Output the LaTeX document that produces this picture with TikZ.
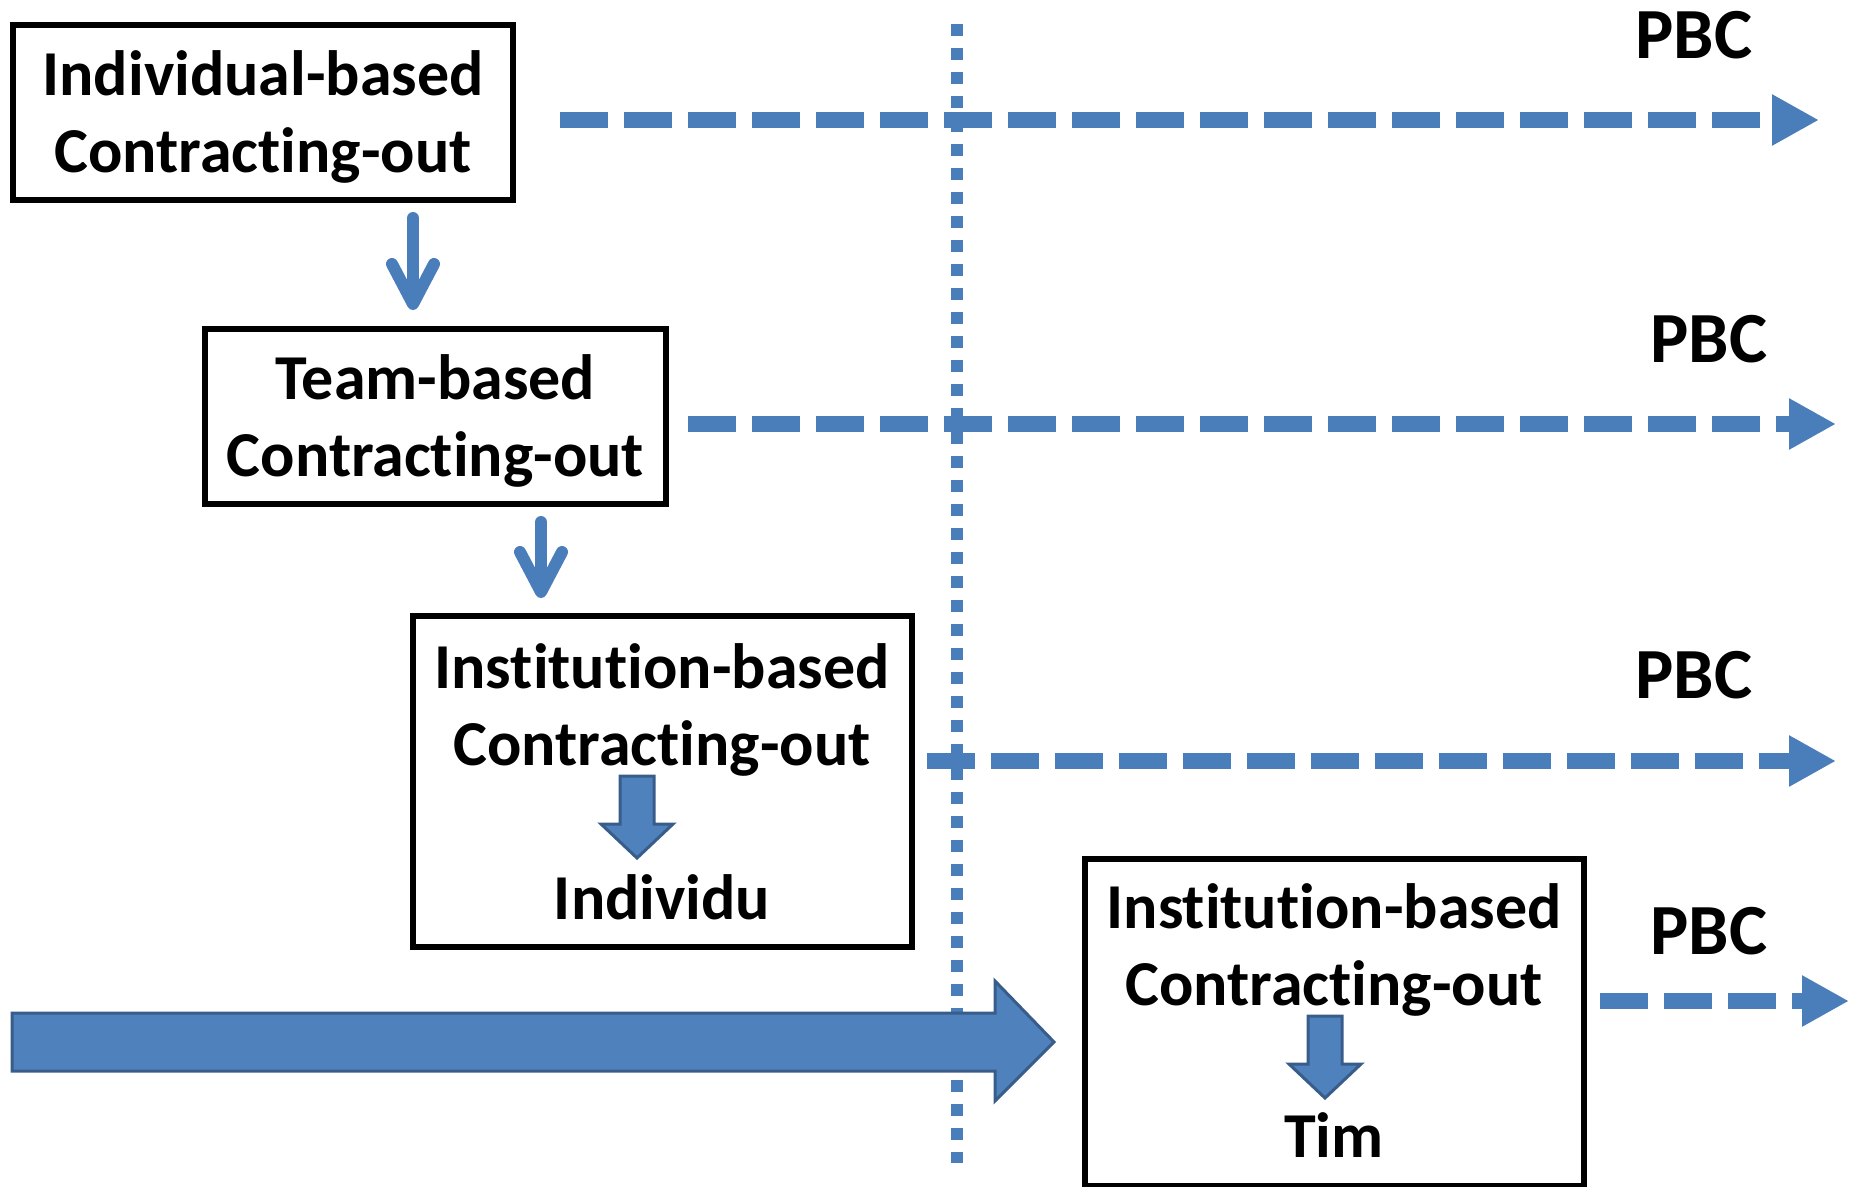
\documentclass[tikz,border=0pt]{standalone}
\usepackage{fontspec}
\setmainfont{Carlito}[Ligatures=NoCommon]
\usetikzlibrary{arrows.meta,calc}
\definecolor{lineblue}{HTML}{4A7EBB}
\definecolor{fillblue}{HTML}{4F81BD}
\definecolor{edgeblue}{HTML}{385D8A}
\newcommand\mybxfont{\fontsize{64pt}{77pt}\selectfont\bfseries}
\newcommand\mypbcfont{\fontsize{72pt}{86pt}\selectfont\bfseries}
\begin{document}
\begin{tikzpicture}[x=1pt,y=-1pt,
  boxnode/.style={draw=black, line width=6pt, rectangle, inner sep=0pt},
  txt/.style={font=\mybxfont, align=center, inner sep=0pt},
  pbc/.style={font=\mypbcfont, inner sep=0pt},
  thinarrow/.style={draw=lineblue, line width=12pt, line cap=round,
    -{Straight Barb[length=40pt,width=42pt,round]}},
  dasharr/.style={draw=lineblue, line width=16pt, dash pattern=on 48pt off 16pt,
    -{Triangle[length=47pt,width=48pt]}},
  dotline/.style={draw=lineblue, line width=12pt, dash pattern=on 12pt off 12pt},
  blockarr/.style={fill=fillblue, draw=edgeblue, line width=3pt, line join=miter},
  bigarr/.style={fill=fillblue, draw=edgeblue, line width=3pt, line join=miter}
]
\useasboundingbox (0,0) rectangle (1851,1186);

% vertical dotted line
\coordinate (vtop) at (957,24);
\coordinate (vbot) at (957,1163);
\draw[dotline] (vtop) -- (vbot);

% boxes
\node[boxnode, minimum width=500pt, minimum height=175pt] (b1) at (263,112.5) {};
\node[boxnode, minimum width=461pt, minimum height=175pt] (b2) at (435.5,416.5) {};
\node[boxnode, minimum width=499pt, minimum height=331pt] (b3) at (662.5,781.5) {};
\node[boxnode, minimum width=499pt, minimum height=327pt] (b4) at (1334.5,1022) {};

% texts
\node[txt] (t1) at (263,116.5) {Individual-based\\Contracting-out};
\node[txt] (t2) at (435.5,420.5) {Team-based\\Contracting-out};
\node[txt] (t3a) at (662,710) {Institution-based\\Contracting-out};
\node[txt] (t3b) at (662,897) {Individu};
\node[txt] (t4a) at (1334,950) {Institution-based\\Contracting-out};
\node[txt] (t4b) at (1334,1135) {Tim};

% thin arrows between boxes
\coordinate (a1s) at (413,201);
\coordinate (a2s) at (541,505);
\draw[thinarrow, shorten <=15pt, shorten >=16pt] (b1.south -| a1s) -- (b2.north -| a1s);
\draw[thinarrow, shorten <=15pt, shorten >=15pt] (b2.south -| a2s) -- (b3.north -| a2s);

% dashed arrows
\coordinate (d1) at (1819,120);
\coordinate (d2) at (1836,424);
\coordinate (d3) at (1836,761);
\coordinate (d4) at (1849,1001);
\draw[dasharr, shorten <=44pt] (b1.east |- d1) -- (d1);
\draw[dasharr, shorten <=19pt] (b2.east |- d2) -- (d2);
\draw[dasharr, shorten <=12pt] (b3.east |- d3) -- (d3);
\draw[dasharr, shorten <=13pt] (b4.east |- d4) -- (d4);

% PBC labels
\node[pbc] (p1) at (1694,35) {PBC};
\node[pbc] (p2) at (1709,339) {PBC};
\node[pbc] (p3) at (1694,675) {PBC};
\node[pbc] (p4) at (1709,931) {PBC};

% small block arrows
\coordinate (k3) at (637,776);
\coordinate (k4) at (1325,1016);
\draw[blockarr] ($(k3)+(-17,0)$) -- ++(0,48) -- ++(-19,0) -- ++(36,34) -- ++(36,-34) -- ++(-19,0) -- ++(0,-48) -- cycle;
\draw[blockarr] ($(k4)+(-17,0)$) -- ++(0,48) -- ++(-19,0) -- ++(36,34) -- ++(36,-34) -- ++(-19,0) -- ++(0,-48) -- cycle;

% big arrow
\coordinate (bs) at (12,1042);
\coordinate (bt) at (1054,1042);
\draw[bigarr] ($(bs)+(0,-29)$) -- ($(bt)+(-59,-29)$) -- ($(bt)+(-59,-61)$) -- (bt)
  -- ($(bt)+(-59,59)$) -- ($(bt)+(-59,29)$) -- ($(bs)+(0,29)$) -- cycle;
\end{tikzpicture}
\end{document}
